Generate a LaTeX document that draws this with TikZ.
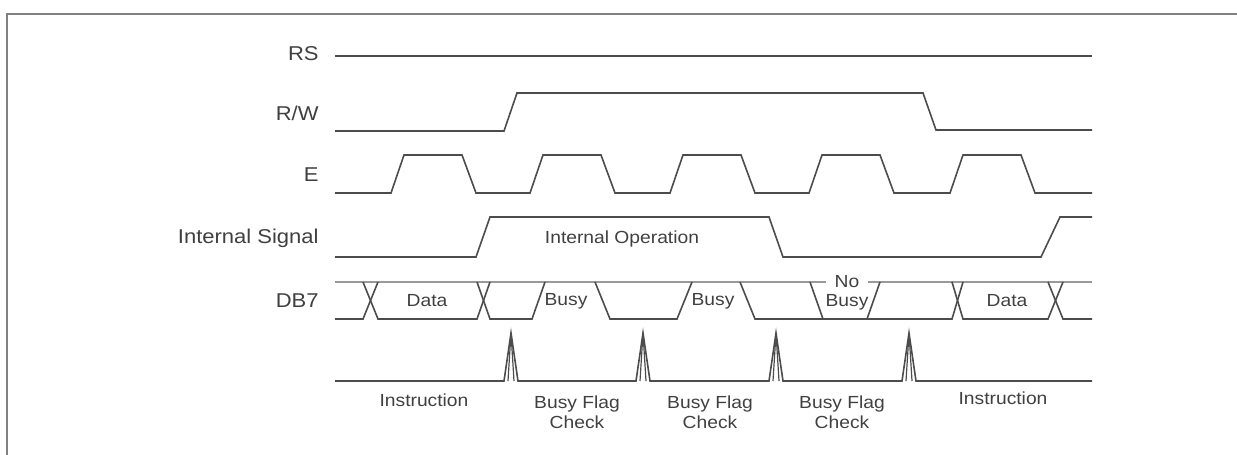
\documentclass[tikz,border=0pt]{standalone}
\usepackage{fontspec}
\setmainfont[FakeStretch=1.1]{Liberation Sans}
\usetikzlibrary{positioning}

\tikzset{
  wave/.style={black!70, line width=0.8pt, line join=miter},
  faint/.style={black!40, line width=0.7pt},
  siglabel/.style={anchor=base east, inner sep=0pt, text=black!75,
    font=\fontsize{10}{12}\selectfont},
  tag/.style={inner sep=0pt, text=black!75, align=center,
    font=\fontsize{8.75}{10}\selectfont},
}

\begin{document}
\begin{tikzpicture}[x=0.5pt, y=-0.5pt]
  \useasboundingbox (0,0) rectangle (1237,455);
  % === Frame ===
  \draw[black!50, line width=0.8pt] (7,455) -- (7,14) -- (1237,14);

  % === Signal names ===
  \node[siglabel] (rs)  at (319,60)  {RS};
  \node[siglabel] (rw)  at (319,120) {R/W};
  \node[siglabel] (en)  at (319,181) {E};
  \node[siglabel] (int) at (319,243) {Internal Signal};
  \node[siglabel] (db)  at (319,307) {DB7};

  % RS stays low
  \draw[wave] (335,56) -- (1092,56);
  % R/W: high during busy flag reads
  \draw[wave] (335,131) -- (504,131) -- (517,93) -- (923,93)
    -- (936,130) -- (1092,130);
  % E: five enable pulses
  \draw[wave] (335,193)
    \foreach \t in {391,530,670,809,950} {
      -- (\t,193) -- (\t+13,155) -- (\t+71,155) -- (\t+85,193)
    } -- (1092,193);
  % Internal signal
  \draw[wave] (335,257) -- (476,257) -- (490,217) -- (769,217)
    -- (783,257) -- (1041,257) -- (1060,217) -- (1092,217);
  \node[tag, anchor=base] (op) at (622,243) {Internal Operation};

  % === DB7 ===
  \draw[faint] (335,282) -- (1092,282);
  \draw[wave] (335,319) -- (363,319) -- (378,282);
  \draw[wave] (363,282) -- (378,319) -- (477,319) -- (490,282);
  \draw[wave] (477,282) -- (490,319) -- (532,319) -- (545,282);
  \draw[wave] (595,282) -- (610,319) -- (677,319) -- (692,282);
  \draw[wave] (740,282) -- (755,319) -- (952,319) -- (963,282);
  \draw[wave] (810,282) -- (823,319);
  \draw[wave] (867,319) -- (880,282);
  \draw[wave] (952,282) -- (963,319) -- (1048,319) -- (1063,282);
  \draw[wave] (1048,282) -- (1063,319) -- (1092,319);
  \node[tag] (d1) at (427,301) {Data};
  \node[tag] (b1) at (566,301) {Busy};
  \node[tag] (b2) at (713,301) {Busy};
  \node[tag, fill=white, font=\fontsize{8.75}{9.5}\selectfont] (nb)
    at (847,293) {No\\Busy};
  \node[tag] (d2) at (1007,301) {Data};

  % === Strobes ===
  \draw[wave] (335,381)
    \foreach \c in {511,643,776,909} {
      -- (\c-7,381) -- (\c,333) -- (\c+7,381)
    } -- (1092,381);
  \foreach \c in {511,643,776,909} {
    \draw[wave, line width=0.6pt] (\c-3,381) -- (\c,333) -- (\c+3,381);
  }
  \node[tag] (i1) at (424,400)  {Instruction};
  \node[tag] (f1) at (577,412)  {Busy Flag\\Check};
  \node[tag] (f2) at (710,412)  {Busy Flag\\Check};
  \node[tag] (f3) at (842,412)  {Busy Flag\\Check};
  \node[tag] (i2) at (1003,398) {Instruction};
\end{tikzpicture}
\end{document}
